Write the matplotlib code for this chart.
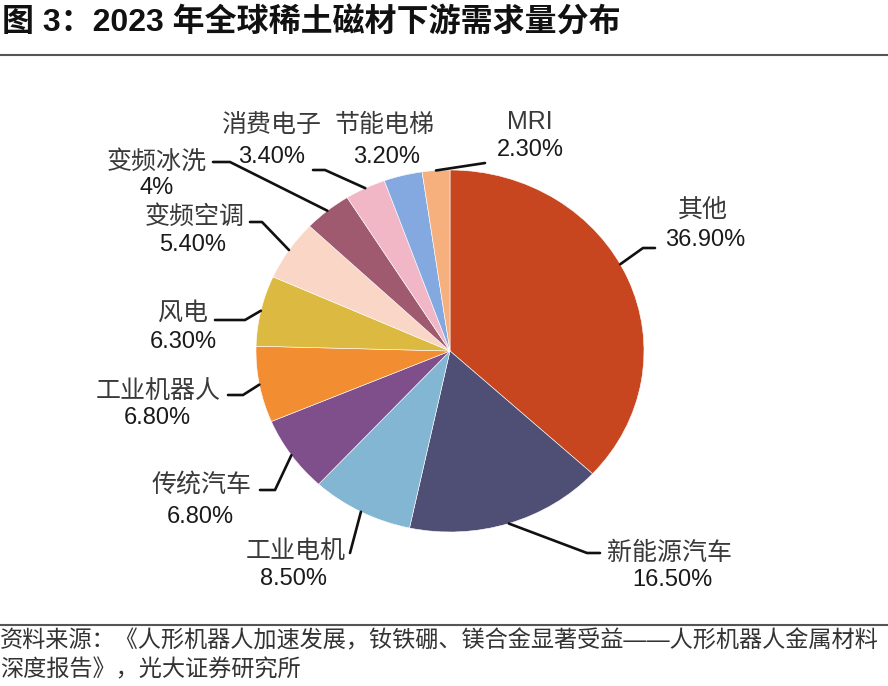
import matplotlib.pyplot as plt
import numpy as np
from matplotlib.lines import Line2D

plt.rcParams['font.family'] = ['Liberation Sans', 'Noto Sans CJK SC', 'DejaVu Sans']

W, H = 888, 686

title = '图 3：2023 年全球稀土磁材下游需求量分布'
source_1 = '资料来源：《人形机器人加速发展，钕铁硼、镁合金显著受益——人形机器人金属材料'
source_2 = '深度报告》，光大证券研究所'

categories = ['其他', '新能源汽车', '工业电机', '传统汽车', '工业机器人', '风电',
              '变频空调', '变频冰洗', '消费电子', '节能电梯', 'MRI']
shares = [36.9, 16.5, 8.5, 6.8, 6.8, 6.3, 5.4, 4.0, 3.4, 3.2, 2.3]
share_labels = ['36.90%', '16.50%', '8.50%', '6.80%', '6.80%', '6.30%',
                '5.40%', '4%', '3.40%', '3.20%', '2.30%']
colors = ['#c8461f', '#4f4e74', '#82b6d2', '#7e4f8b', '#f28d32', '#dcb940',
          '#f9d6c5', '#a05a6f', '#f2b7c6', '#84a9e0', '#f5b07e']

# label layout in image pixels (x, y from top-left): name centre, value centre, leader bends
name_pos = [(703, 210), (669, 553), (296, 552), (202, 485), (158, 392), (183, 313),
            (195, 217), (157, 162), (271, 125), (385, 125), (530, 122)]
value_pos = [(705, 240), (672, 580), (293, 579), (200, 517), (157, 418), (183, 342),
             (193, 245), (157, 188), (272, 157), (387, 157), (530, 150)]
leaders = [[(643, 248), (655, 248)],
           [(587, 553), (600, 553)],
           [(350, 553)],
           [(275, 490), (260, 490)],
           [(243, 395), (228, 395)],
           [(245, 320), (215, 320)],
           [(262, 222), (250, 222)],
           [(230, 162), (213, 162)],
           [(325, 170), (313, 170)],
           [],
           [(485, 163)]]
# small angular nudge of leader start (degrees), 其他 leaves the pie a bit higher
leader_shift = [5, 0, 0, 0, 0, 0, 0, 0, 0, 0, 0]


def fx(x):
    return x / W


def fy(y):
    return (H - y) / H


fig = plt.figure(figsize=(W / 100, H / 100), dpi=100)
fig.patch.set_facecolor('white')

# pie axes (slightly wider than tall, like the source image)
ax = fig.add_axes([fx(256), fy(532), 388 / W, 362 / H])
wedges, _ = ax.pie(shares, colors=colors, startangle=90, counterclock=False,
                   wedgeprops=dict(linewidth=0.4, edgecolor='white'))
ax.set_aspect('auto')
ax.set_xlim(-1, 1)
ax.set_ylim(-1, 1)
ax.axis('off')

inv = fig.transFigure.inverted()
for i, w in enumerate(wedges):
    fig.text(fx(name_pos[i][0]), fy(name_pos[i][1]), categories[i], fontsize=18,
             color='#3a3a3a', ha='center', va='center')
    fig.text(fx(value_pos[i][0]), fy(value_pos[i][1]), share_labels[i], fontsize=17,
             color='#1a1a1a', ha='center', va='center')
    if not leaders[i]:
        continue
    mid = np.deg2rad((w.theta1 + w.theta2) / 2 + leader_shift[i])
    sx, sy = inv.transform(ax.transData.transform((np.cos(mid), np.sin(mid))))
    xs = [sx] + [fx(p[0]) for p in leaders[i]]
    ys = [sy] + [fy(p[1]) for p in leaders[i]]
    fig.add_artist(Line2D(xs, ys, transform=fig.transFigure, color='#111111',
                          linewidth=1.9, solid_capstyle='round', solid_joinstyle='round'))

# title, rules and source
fig.text(fx(2), fy(22), title, fontsize=23, fontweight='bold', color='#111111',
         ha='left', va='center')
fig.add_artist(Line2D([0, 1], [fy(55), fy(55)], transform=fig.transFigure,
                      color='#555555', linewidth=1.5))
fig.add_artist(Line2D([0, 1], [fy(625), fy(625)], transform=fig.transFigure,
                      color='#555555', linewidth=1.5))
fig.text(fx(0), fy(641), source_1, fontsize=16.7, color='#333333', ha='left', va='center')
fig.text(fx(0), fy(670), source_2, fontsize=16.7, color='#333333', ha='left', va='center')

fig.savefig('out.png', dpi=100)
